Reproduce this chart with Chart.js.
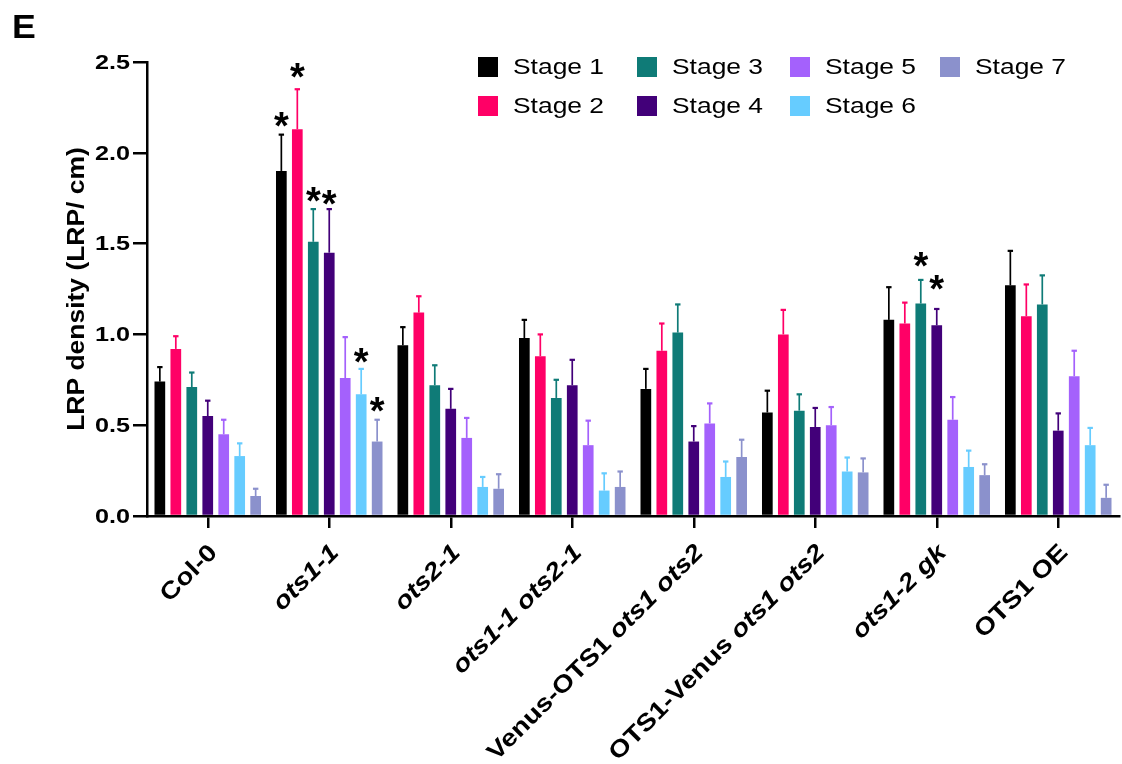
<!DOCTYPE html>
<html>
<head>
<meta charset="utf-8">
<script src="https://cdn.jsdelivr.net/npm/chart.js@4.4.1/dist/chart.umd.min.js"></script>
<style>
  html, body { margin: 0; padding: 0; background: #ffffff; }
  #wrap { width: 1122px; height: 764px; position: relative; }
</style>
</head>
<body>
<div id="wrap"><canvas id="c" width="1122" height="764"></canvas></div>
<script>
// Genotypes on the x axis
const categories = ['Col-0', 'ots1-1', 'ots2-1', 'ots1-1 ots2-1', 'Venus-OTS1 ots1 ots2',
                    'OTS1-Venus ots1 ots2', 'ots1-2 gk', 'OTS1 OE'];
// Words of the genotype names set in italics
const italicTerms = ['ots1-1', 'ots2-1', 'ots1', 'ots2', 'ots1-2', 'gk'];

// Lateral root primordium stages
const stageNames = ['Stage 1', 'Stage 2', 'Stage 3', 'Stage 4', 'Stage 5', 'Stage 6', 'Stage 7'];
const stageColors = ['#000000', '#FF0066', '#0F7B77', '#420079', '#A461FC', '#66CCFF', '#8B91CC'];

// Mean LRP density (LRP/cm) per stage, one value per genotype
const stage1Mean = [0.74, 1.90, 0.94, 0.98, 0.70, 0.57, 1.08, 1.27];
const stage2Mean = [0.92, 2.13, 1.12, 0.88, 0.91, 1.00, 1.06, 1.10];
const stage3Mean = [0.71, 1.51, 0.72, 0.65, 1.01, 0.58, 1.17, 1.165];
const stage4Mean = [0.55, 1.45, 0.59, 0.72, 0.41, 0.49, 1.05, 0.47];
const stage5Mean = [0.45, 0.76, 0.43, 0.39, 0.51, 0.50, 0.53, 0.77];
const stage6Mean = [0.33, 0.67, 0.16, 0.14, 0.215, 0.245, 0.27, 0.39];
const stage7Mean = [0.11, 0.41, 0.15, 0.16, 0.325, 0.24, 0.225, 0.10];

// Standard error per stage, one value per genotype
const stage1Err = [0.08, 0.20, 0.10, 0.10, 0.11, 0.12, 0.18, 0.19];
const stage2Err = [0.07, 0.22, 0.09, 0.12, 0.15, 0.135, 0.115, 0.175];
const stage3Err = [0.08, 0.18, 0.11, 0.10, 0.155, 0.09, 0.13, 0.16];
const stage4Err = [0.085, 0.24, 0.11, 0.14, 0.085, 0.105, 0.09, 0.095];
const stage5Err = [0.08, 0.225, 0.11, 0.135, 0.11, 0.10, 0.125, 0.14];
const stage6Err = [0.07, 0.14, 0.055, 0.095, 0.085, 0.077, 0.09, 0.095];
const stage7Err = [0.04, 0.12, 0.08, 0.085, 0.095, 0.077, 0.06, 0.072];

// Significance marks: genotype index, stage index, level (LRP/cm) under the asterisk
const starCategory = [1, 1, 1, 1, 1, 1, 6, 6];
const starStage    = [0, 1, 2, 3, 5, 6, 2, 3];
const starLevel    = [2.14, 2.41, 1.73, 1.71, 0.84, 0.57, 1.37, 1.245];

// Value axis
const yMin = 0, yMax = 2.5, yStep = 0.5;
const yTickLabels = ['0.0', '0.5', '1.0', '1.5', '2.0', '2.5'];
const yTitle = 'LRP density (LRP/ cm)';
const panelLetter = 'E';

const stageMeans = [stage1Mean, stage2Mean, stage3Mean, stage4Mean, stage5Mean, stage6Mean, stage7Mean];
const stageErrs  = [stage1Err, stage2Err, stage3Err, stage4Err, stage5Err, stage6Err, stage7Err];

const FONT = '"Liberation Sans", Arial, Helvetica, sans-serif';

const datasets = stageNames.map((name, s) => ({
  label: name,
  data: stageMeans[s],
  errorBars: stageErrs[s],
  backgroundColor: stageColors[s],
  borderWidth: 0,
  categoryPercentage: 0.92,
  barPercentage: 0.67
}));

// Draws a run of text pieces (each with its own font) along a rotated,
// horizontally widened baseline. align: 'left' | 'center' | 'right'.
function drawRun(ctx, pieces, x, y, rotation, align, widen) {
  let total = 0;
  pieces.forEach(p => { ctx.font = p.font; p.w = ctx.measureText(p.text).width; total += p.w; });
  ctx.save();
  ctx.translate(x, y);
  ctx.rotate(rotation);
  ctx.scale(widen, 1);
  ctx.textAlign = 'left';
  let u = align === 'right' ? -total : align === 'center' ? -total / 2 : 0;
  pieces.forEach(p => { ctx.font = p.font; ctx.fillText(p.text, u, 0); u += p.w; });
  ctx.restore();
}

// One-sided (upper) error bars with small caps
const errorBarPlugin = {
  id: 'errorBars',
  afterDatasetsDraw(chart) {
    const ctx = chart.ctx;
    const y = chart.scales.y;
    ctx.save();
    chart.data.datasets.forEach((ds, di) => {
      const meta = chart.getDatasetMeta(di);
      meta.data.forEach((bar, i) => {
        const top = y.getPixelForValue(ds.data[i] + ds.errorBars[i]);
        ctx.strokeStyle = ds.backgroundColor;
        ctx.lineWidth = 1.7;
        ctx.beginPath();
        ctx.moveTo(bar.x, bar.y);
        ctx.lineTo(bar.x, top);
        ctx.stroke();
        ctx.lineWidth = 2.2;
        ctx.beginPath();
        ctx.moveTo(bar.x - 2.7, top);
        ctx.lineTo(bar.x + 2.7, top);
        ctx.stroke();
      });
    });
    ctx.restore();
  }
};

// Asterisks for significant differences
const starPlugin = {
  id: 'stars',
  afterDatasetsDraw(chart) {
    const ctx = chart.ctx;
    const y = chart.scales.y;
    ctx.save();
    ctx.font = 'bold 38px ' + FONT;
    ctx.fillStyle = '#000';
    ctx.textAlign = 'center';
    ctx.textBaseline = 'alphabetic';
    const m = ctx.measureText('*');
    starCategory.forEach((c, k) => {
      const bar = chart.getDatasetMeta(starStage[k]).data[c];
      const bottom = y.getPixelForValue(starLevel[k]);
      ctx.fillText('*', bar.x, bottom - m.actualBoundingBoxDescent);
    });
    ctx.restore();
  }
};

// Axis texts: value ticks, axis title and rotated genotype names
const axisTextPlugin = {
  id: 'axisText',
  afterDraw(chart) {
    const ctx = chart.ctx;
    const x = chart.scales.x;
    const y = chart.scales.y;
    const area = chart.chartArea;
    ctx.save();
    ctx.fillStyle = '#000';
    ctx.textBaseline = 'middle';

    const tickFont = 'bold 21px ' + FONT;
    y.ticks.forEach((t, i) => {
      const py = y.getPixelForValue(t.value);
      drawRun(ctx, [{ text: yTickLabels[i], font: tickFont }], area.left - 17, py + 1, 0, 'right', 1.2);
    });

    drawRun(ctx, [{ text: yTitle, font: 'bold 23px ' + FONT }],
            78, (area.top + area.bottom) / 2, -Math.PI / 2, 'center', 1.15);

    const upright = 'bold 24px ' + FONT;
    const italic = 'italic bold 24px ' + FONT;
    categories.forEach((label, i) => {
      const words = label.split(' ');
      const pieces = words.map((w, j) => ({
        text: (j < words.length - 1) ? w + ' ' : w,
        font: italicTerms.includes(w) ? italic : upright
      }));
      drawRun(ctx, pieces, x.getPixelForValue(i) + 6, area.bottom + 33, -Math.PI / 4, 'right', 1.16);
    });
    ctx.restore();
  }
};

// Two-row legend and panel letter
const legendPlugin = {
  id: 'stageLegend',
  afterDraw(chart) {
    const ctx = chart.ctx;
    const colX = [478, 637, 790, 940];
    const rowY = [67, 106];
    ctx.save();
    ctx.textBaseline = 'middle';
    chart.data.datasets.forEach((ds, s) => {
      const cx = colX[Math.floor(s / 2)];
      const cy = rowY[s % 2];
      ctx.fillStyle = ds.backgroundColor;
      ctx.fillRect(cx, cy - 10, 20, 20);
      ctx.fillStyle = '#000';
      drawRun(ctx, [{ text: ds.label, font: '22px ' + FONT }], cx + 35, cy + 1, 0, 'left', 1.2);
    });
    ctx.textBaseline = 'alphabetic';
    drawRun(ctx, [{ text: panelLetter, font: 'bold 34px ' + FONT }], 12, 38, 0, 'left', 1.05);
    ctx.restore();
  }
};

new Chart(document.getElementById('c'), {
  type: 'bar',
  data: { labels: categories, datasets },
  options: {
    responsive: false,
    animation: false,
    devicePixelRatio: 1,
    layout: { padding: { top: 62, right: 3, left: 0, bottom: 0 } },
    plugins: { legend: { display: false }, tooltip: { enabled: false } },
    scales: {
      x: {
        offset: true,
        ticks: { display: false },
        grid: { display: true, drawOnChartArea: false, drawTicks: true, tickLength: 12,
                offset: false, color: '#000', lineWidth: 2.5 },
        border: { display: true, color: '#000', width: 2.5 },
        afterFit(scale) { scale.height = 764 - 516; }
      },
      y: {
        min: yMin, max: yMax,
        ticks: { stepSize: yStep, display: false },
        grid: { display: true, drawOnChartArea: false, drawTicks: true, tickLength: 14,
                color: '#000', lineWidth: 2.5 },
        border: { display: true, color: '#000', width: 2.5 },
        afterFit(scale) { scale.width = 147; }
      }
    }
  },
  plugins: [errorBarPlugin, starPlugin, axisTextPlugin, legendPlugin]
});
</script>
</body>
</html>
